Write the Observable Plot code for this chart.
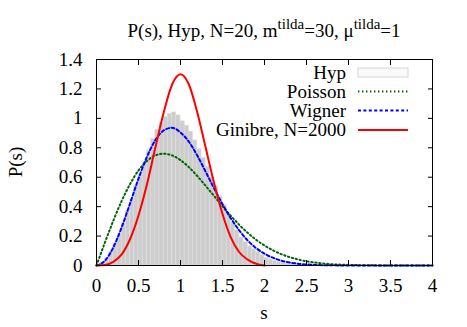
<!DOCTYPE html>
<html>
<head>
<meta charset="utf-8">
<script src="https://cdn.jsdelivr.net/npm/d3@7"></script>
<script src="https://cdn.jsdelivr.net/npm/@observablehq/plot@0.6"></script>
<style>
  html, body { margin: 0; padding: 0; background: #fff; }
  #chart { width: 467px; height: 327px; }
</style>
</head>
<body>
<div id="chart"></div>
<script>
// ---- data ----
const xTicks = [0, 0.5, 1, 1.5, 2, 2.5, 3, 3.5, 4];
const yTicks = [0, 0.2, 0.4, 0.6, 0.8, 1, 1.2, 1.4];

// histogram "Hyp": bin start, bin width 0.05
const histStart = [0.00,0.05,0.10,0.15,0.20,0.25,0.30,0.35,0.40,0.45,0.50,0.55,0.60,0.65,0.70,0.75,0.80,0.85,0.90,0.95,
                   1.00,1.05,1.10,1.15,1.20,1.25,1.30,1.35,1.40,1.45,1.50,1.55,1.60,1.65,1.70,1.75,1.80,1.85,1.90,1.95,
                   2.00,2.05,2.10,2.15,2.20,2.25,2.30,2.35,2.40,2.45,2.50,2.55,2.60];
const histValue = [0.008,0.02,0.05,0.09,0.15,0.21,0.29,0.37,0.45,0.54,0.62,0.70,0.78,0.86,0.92,0.97,1.01,1.03,1.04,1.02,
                   0.98,0.95,0.91,0.85,0.79,0.73,0.67,0.60,0.54,0.47,0.41,0.35,0.29,0.24,0.19,0.16,0.13,0.11,0.09,0.07,
                   0.05,0.04,0.03,0.022,0.016,0.012,0.008,0.006,0.004,0.003,0.002,0.0015,0.001];
const binWidth = 0.05;

// curves
const curveS = [0,0.1,0.2,0.3,0.4,0.5,0.6,0.7,0.8,0.9,1.0,1.1,1.2,1.3,1.4,1.5,1.6,1.7,1.8,1.9,2.0,
                2.2,2.4,2.6,2.8,3.0,3.2,3.4,3.6,3.8,4.0];
const poisson = [0,0.156,0.304,0.439,0.554,0.646,0.710,0.748,0.760,0.748,0.716,0.668,0.608,0.541,0.472,0.403,0.337,0.276,0.222,0.175,0.136,
                 0.077,0.041,0.020,0.009,0.004,0.0016,0.0006,0.0002,0.0001,0];
const wigner = [0,0.032,0.123,0.260,0.423,0.590,0.738,0.851,0.918,0.936,0.904,0.841,0.747,0.637,0.524,0.417,0.320,0.238,0.170,0.118,0.080,
                0.033,0.012,0.004,0.0012,0.0003,0,0,0,0,0];
const ginibreS = [0,0.1,0.2,0.3,0.4,0.5,0.6,0.7,0.8,0.9,1.0,1.1,1.2,1.3,1.4,1.5,1.6,1.7,1.8,1.9,2.0];
const ginibre = [0,0.003,0.025,0.075,0.18,0.34,0.55,0.80,1.04,1.23,1.30,1.23,1.04,0.80,0.56,0.35,0.19,0.09,0.04,0.012,0];

const seriesNames = ["Hyp", "Poisson", "Wigner", "Ginibre, N=2000"];

// ---- tables ----
const hist = histStart.map((s, i) => ({s0: s, s1: s + binWidth, p: histValue[i]}));
const poissonData = curveS.map((s, i) => ({s, p: poisson[i]}));
const wignerData = curveS.map((s, i) => ({s, p: wigner[i]}));
const ginibreData = ginibreS.map((s, i) => ({s, p: ginibre[i]}));

const FONT = "'Liberation Serif', 'Times New Roman', serif";
const FS = 19;
const colors = {hist: "#cdcdcd", poisson: "#006400", wigner: "#0000ff", ginibre: "#ff0000"};
const dashPoisson = "1.4,2.6";
const dashWigner = "3,2.4";

const chart = Plot.plot({
  width: 467,
  height: 327,
  marginLeft: 96,
  marginRight: 35,
  marginTop: 59,
  marginBottom: 62,
  style: {fontFamily: FONT, fontSize: FS + "px", background: "#fff", color: "#000", overflow: "visible"},
  x: {domain: [0, 4]},
  y: {domain: [0, 1.4]},
  marks: [
    Plot.rectY(hist, {x1: "s0", x2: "s1", y: "p", fill: colors.hist, stroke: "#dedede", strokeWidth: 0.6}),
    Plot.line(poissonData, {x: "s", y: "p", stroke: colors.poisson, strokeWidth: 2, strokeDasharray: dashPoisson, curve: "monotone-x"}),
    Plot.line(wignerData, {x: "s", y: "p", stroke: colors.wigner, strokeWidth: 2, strokeDasharray: dashWigner, curve: "monotone-x"}),
    Plot.line(ginibreData, {x: "s", y: "p", stroke: colors.ginibre, strokeWidth: 2, curve: "monotone-x"}),
    Plot.frame({stroke: "#000", strokeWidth: 1}),
    Plot.axisX({ticks: xTicks, anchor: "bottom", tickSize: 0, tickPadding: 13, tickFormat: d => String(d), label: null}),
    Plot.axisX({ticks: xTicks, anchor: "bottom", tickSize: -5, tickFormat: () => "", label: null}),
    Plot.axisX({ticks: xTicks, anchor: "top", tickSize: -5, tickFormat: () => "", label: null}),
    Plot.axisY({ticks: yTicks, anchor: "left", tickSize: 0, tickPadding: 14, tickFormat: d => String(d), label: null}),
    Plot.axisY({ticks: yTicks, anchor: "left", tickSize: -5, tickFormat: () => "", label: null}),
    Plot.axisY({ticks: yTicks, anchor: "right", tickSize: -5, tickFormat: () => "", label: null})
  ]
});

document.getElementById("chart").appendChild(chart);

const svg = d3.select(chart);

// make sure the dash patterns are applied to the curve paths
const dashByColor = {[colors.poisson]: dashPoisson, [colors.wigner]: dashWigner};
svg.selectAll('g[aria-label="line"]').each(function() {
  const g = d3.select(this);
  const stroke = g.attr("stroke") || g.select("path").attr("stroke");
  const dash = dashByColor[stroke];
  if (dash) {
    g.attr("stroke-dasharray", dash);
    g.selectAll("path").attr("stroke-dasharray", dash).style("stroke-dasharray", dash);
  }
});

// ---- title, axis labels, legend ----
const title = svg.append("text")
  .attr("x", 264).attr("y", 36.5)
  .attr("text-anchor", "middle")
  .attr("font-family", FONT).attr("font-size", FS).attr("fill", "#000");
title.append("tspan").text("P(s), Hyp, N=20, m");
title.append("tspan").attr("dy", -8).attr("font-size", 15).text("tilda");
title.append("tspan").attr("dy", 8).text("=30, \u03bc");
title.append("tspan").attr("dy", -8).attr("font-size", 15).text("tilda");
title.append("tspan").attr("dy", 8).text("=1");

svg.append("text")
  .attr("transform", "translate(22,162) rotate(-90)")
  .attr("text-anchor", "middle")
  .attr("font-family", FONT).attr("font-size", FS).attr("fill", "#000")
  .text("P(s)");

svg.append("text")
  .attr("x", 264).attr("y", 319)
  .attr("text-anchor", "middle")
  .attr("font-family", FONT).attr("font-size", FS).attr("fill", "#000")
  .text("s");

const legendRows = [
  {name: seriesNames[0], y: 72.5, type: "box"},
  {name: seriesNames[1], y: 91.5, color: colors.poisson, dash: dashPoisson},
  {name: seriesNames[2], y: 110.5, color: colors.wigner, dash: dashWigner},
  {name: seriesNames[3], y: 130, color: colors.ginibre, dash: null}
];
const lg = svg.append("g");
legendRows.forEach(r => {
  lg.append("text")
    .attr("x", 346).attr("y", r.y).attr("dy", "0.33em")
    .attr("text-anchor", "end")
    .attr("font-family", FONT).attr("font-size", FS).attr("fill", "#000")
    .text(r.name);
  if (r.type === "box") {
    lg.append("rect")
      .attr("x", 358).attr("y", r.y - 4.5).attr("width", 50).attr("height", 9)
      .attr("fill", "#fafafa").attr("stroke", "#d6d6d6").attr("stroke-width", 1);
  } else {
    const l = lg.append("line")
      .attr("x1", 358).attr("x2", 408).attr("y1", r.y).attr("y2", r.y)
      .attr("stroke", r.color).attr("stroke-width", 2);
    if (r.dash) l.attr("stroke-dasharray", r.dash);
  }
});
</script>
</body>
</html>
